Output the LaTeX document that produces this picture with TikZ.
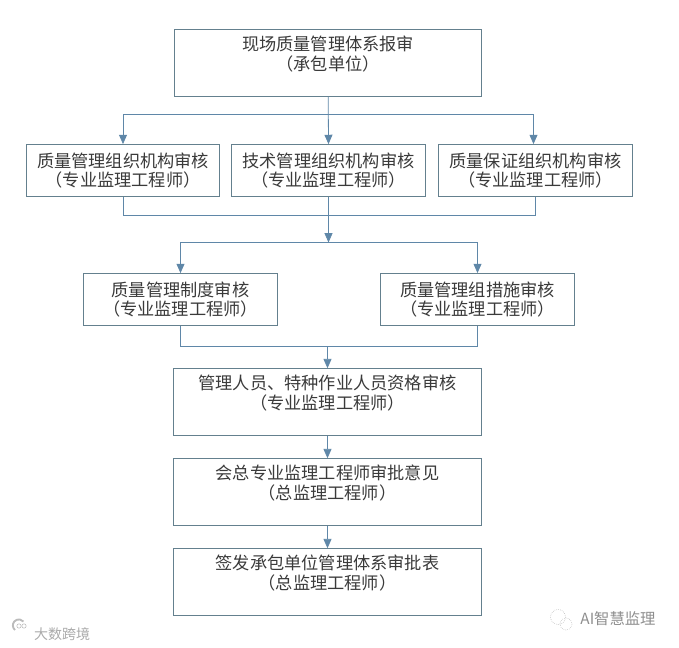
\documentclass[tikz,border=0pt]{standalone}
\usepackage{fontspec}
\setmainfont{Noto Sans CJK SC}
\usetikzlibrary{arrows.meta}
\definecolor{boxline}{HTML}{64808E}
\definecolor{linkline}{HTML}{5F87A8}
\definecolor{boxtext}{HTML}{3A3A3A}
\definecolor{marktext}{HTML}{8E8E8E}
\begin{document}
\begin{tikzpicture}[x=0.75pt, y=-0.75pt]
    \tikzset{box/.style={draw=boxline, line width=0.6pt, inner sep=0pt, align=center, text=boxtext,
        font=\fontsize{12.9}{14.6}\selectfont}};
    \tikzset{wide/.style={box, minimum width=230.5pt, minimum height=50pt}};
    \tikzset{narrow/.style={box, minimum width=145pt, minimum height=39pt}};
    \tikzset{link/.style={draw=linkline, line width=0.6pt}};
    \tikzset{tip/.style={link, -{Triangle[width=6pt, length=7pt]}}};
    \useasboundingbox (0, 0) rectangle (679, 648);

    % Top
    \path (328, 63) node [wide] (top) {现场质量管理体系报审\\（承包单位）\\ \ };

    % Level 1
    \path (123, 170.5) node [narrow] (l1a) {质量管理组织机构审核\\（专业监理工程师）};
    \path (328.5, 170.5) node [narrow] (l1b) {技术管理组织机构审核\\（专业监理工程师）};
    \path (535.5, 170.5) node [narrow] (l1c) {质量保证组织机构审核\\（专业监理工程师）};

    % Level 2
    \path (180.5, 299.5) node [narrow] (l2a) {质量管理制度审核\\（专业监理工程师）};
    \path (477.5, 299.5) node [narrow] (l2b) {质量管理组措施审核\\（专业监理工程师）};

    % Level 3
    \path (327.5, 402) node [wide] (l3a) {管理人员、特种作业人员资格审核\\（专业监理工程师）\\ \ };
    \path (327.5, 492) node [wide] (l3b) {会总专业监理工程师审批意见\\（总监理工程师）\\ \ };
    \path (327.5, 582) node [wide] (l3c) {签发承包单位管理体系审批表\\（总监理工程师）\\ \ };

    % Joints
    \path (328.5, 114.5) coordinate (s1);
    \path (328.5, 215.5) coordinate (j1);
    \path (328.5, 242.5) coordinate (s2);
    \path (327.5, 346.5) coordinate (j2);

    % Edges
    \draw [tip] (top) -- (s1 |- l1b.north);
    \draw [tip] (s1) -| (l1a);
    \draw [tip] (s1) -| ([xshift=-1.5pt]l1c.north);
    \draw [link] (l1a) |- (j1) -| (l1c);
    \draw [tip] (l1b) -- (s2);
    \foreach \i in {a, b} { \draw [tip] (s2) -| (l2\i); }
    \draw [link] (l2a) |- (j2) -| (l2b);
    \draw [tip] (j2) -- (l3a);
    \draw [tip] (l3a) -- (l3b);
    \draw [tip] (l3b) -- (l3c);

    % Marks
    \path (618, 619) node [text=marktext, font=\fontsize{11.5}{12}\selectfont] (mark1) {AI智慧监理};
    \path (62, 634) node [text=marktext!75, font=\fontsize{10.5}{12}\selectfont] (mark2) {大数跨境};
    \draw [marktext!80, densely dotted] (558, 617) circle (7.5);
    \draw [marktext!80, densely dotted] (566, 624) circle (6);
    \draw [marktext!60, line width=1.4pt] (15, 630) arc (130:320:6);
    \draw [marktext!60] (19, 626) circle (2.2);
    \draw [marktext!60] (24, 626) circle (2.2);
\end{tikzpicture}
\end{document}
